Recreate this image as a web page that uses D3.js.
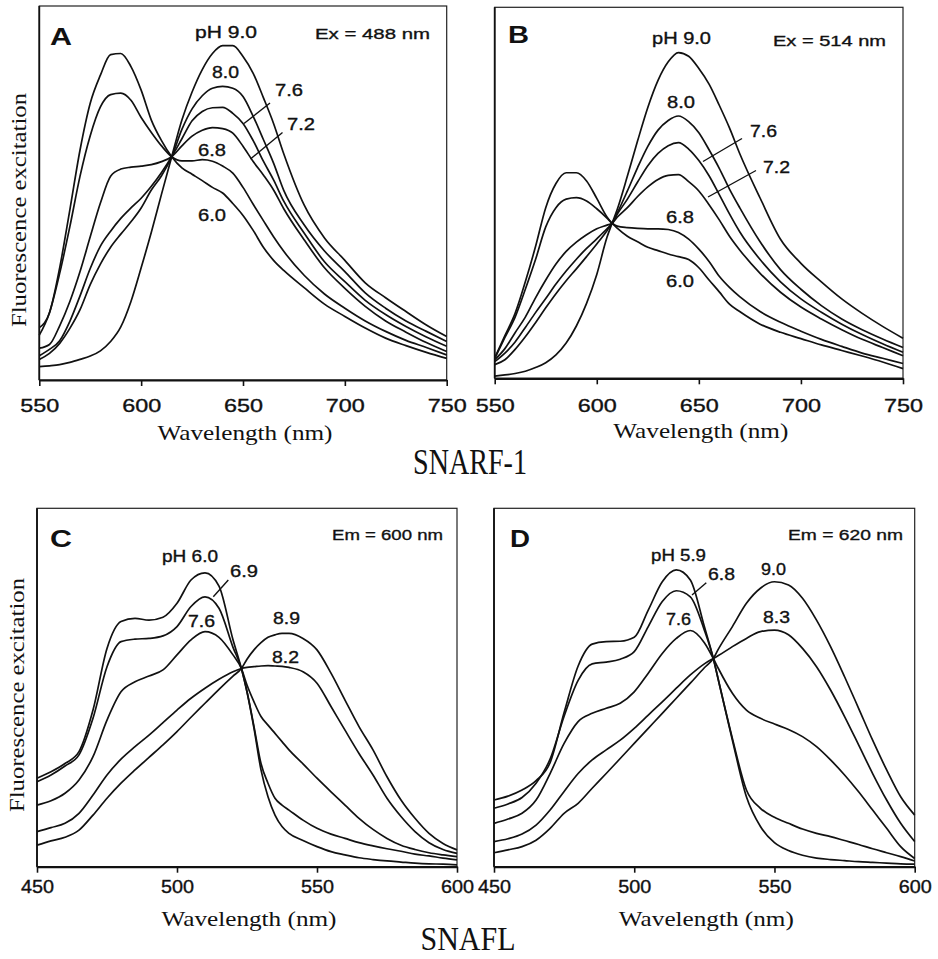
<!DOCTYPE html>
<html>
<head>
<meta charset="utf-8">
<script src="https://cdn.jsdelivr.net/npm/d3@7"></script>
<style>
  html, body { margin: 0; padding: 0; background: #fff; }
  svg { display: block; }
</style>
</head>
<body>
<svg id="chart" width="938" height="959"></svg>
<script>
// ---------------- DATA ----------------
// Relative fluorescence, 0 = x-axis, 100 = top of frame.

// Panel A: SNARF-1, Ex = 488 nm
const waveA = [550,555,560,565,570,575,580,585,590,595,600,605,610,615,620,625,630,635,640,645,650,655,660,665,670,680,690,700,710,720,730,740,750];
const snarfA_60 = [14,18,30,45.5,61.5,74,81.5,87,87.3,83.8,77.5,69.5,64,59.7,56.7,55,53.3,51.5,50,47.2,44,40,35.5,32,29.3,24.7,20.3,17,13.9,11.2,9.2,7.4,5.8];
const snarfA_68 = [12,18,28.5,41,54.5,65.3,73,76.3,76.7,74.8,70.2,66.2,62.6,59.7,58.6,58.6,58.9,58.5,57.2,55.3,51.5,47,42.6,38.3,34.4,28,23,19.2,15.8,13,10.6,8.7,6.7];
const snarfA_72 = [8.5,9.5,14.5,21,29,38.3,47.3,54.5,56.4,56.9,57.2,57.6,58.4,59.7,62.6,65.2,66.8,67.5,67.2,66,62.5,58.4,54.8,50.8,45.8,37.5,30,24.5,19.7,15.8,12.8,10,7.6];
const snarfA_76 = [6.5,8.2,10.5,15.7,22.5,29.8,35.8,39.8,43.2,46,48.6,51.8,55.5,59.7,64.5,69.3,71.8,72.8,72.9,71.3,68.6,64,58.5,53.5,47.8,39.3,31.6,26.3,21.3,17.5,14.3,11.5,9];
const snarfA_80 = [5.5,7.1,9.8,13.8,18.8,25.5,31,35.5,39,42.3,46,50.8,54.6,59.7,67,72.5,76,78,78.5,78,75.8,70.5,64.3,58,50.7,41.5,34.5,29,23.3,19.2,15.8,13,10.3];
const snarfA_90 = [3.6,3.8,4.1,4.7,5.5,6.4,7.8,10.3,14.2,21,30,39.5,49.7,59.7,69.5,77,83,87.3,89.4,89.4,86.5,82,75.5,68.6,60.5,46.8,38,32,26,22,18.3,14.7,11.6];

// Panel B: SNARF-1, Ex = 514 nm
const waveB = [550,555,560,565,570,575,580,585,590,595,600,605,607.5,610,615,620,625,630,635,640,645,650,655,660,665,670,680,690,700,710,720,730,740,750];
const snarfB_60 = [5.5,11.5,17.5,26,35.5,46,52.5,55.4,55.4,53.2,48.5,43.5,41.8,40.5,38.3,36.8,35.3,34.4,33.5,32.8,32,29.8,26.5,23.3,20,18,14.6,12.4,10.7,9,7.5,6,4.4,2.6];
const snarfB_68 = [5.3,11,16.5,24,32,40.8,46,48.3,48.7,47.8,45.7,43.2,41.8,41,40.6,40.4,40.3,40.3,40.1,39.3,37.5,34.8,31.5,27.5,24.5,22,18,15.1,12.7,10.5,8.6,6.8,5.4,4];
const snarfB_72 = [5,8,12.3,16.5,21.7,26.5,30.8,34.2,36.7,38.7,40.3,41.3,41.8,43.4,46,49,51.6,53.6,54.7,54.9,53,50.5,46.8,42.7,38.3,34.6,28.3,23.2,19.2,16,13.1,10.5,8.3,6.1];
const snarfB_76 = [4.5,6.8,9.8,13.7,17.7,21.5,25.4,28.9,32.1,35,37.6,40.3,41.8,44.2,48.3,52.9,57.3,60.6,62.7,63.5,61.8,58.7,54.6,49.5,44.3,39.5,32,26,21.4,17.8,14.6,11.8,9.3,7];
const snarfB_80 = [3.7,5,7.8,11.2,15,19,22.8,26.3,29.5,32.8,36.2,39.8,41.8,44.5,50.5,56.8,62.5,66.9,69.5,70.7,69.2,66.2,61.6,56.6,51,46,36.8,29.3,24,19.6,16,13.1,10.6,8.3];
const snarfB_90 = [0.6,0.9,1.3,1.9,2.9,4.2,6.3,9.5,14.1,20.2,28,38,41.8,45.5,54.5,64,73,80.3,85.3,87.8,86.8,83.5,79.3,73.6,67.5,60.6,48.6,37.5,31,26,21.4,17.5,14,10.8];

// Panel C: SNAFL, Em = 600 nm
const waveC = [450,455,460,465,470,475,480,485,490,495,500,505,510,515,520,523,525,527.5,530,532.5,535,537.5,540,545,550,555,560,565,570,575,580,585,590,595,600];
const snaflC_60 = [24.7,26.5,28.8,32.1,43.7,60.9,68.4,69.3,68.8,69.6,73.5,80,82,78.3,63.3,55.3,48.8,38.6,27,19.5,14.4,11.2,9.3,7.3,5.6,4.2,3.3,2.5,2,1.6,1.3,1,0.8,0.7,0.5];
const snaflC_69 = [23.7,25.6,28.1,31.2,41.4,55.8,62.8,63.5,63.7,64.4,67,72.6,75.3,72.1,61.2,55.3,48.8,39.1,28.8,23.3,19.1,17.2,15.8,13,10.7,9.1,7.9,6.7,5.8,5,4.3,3.5,3,2.4,1.9];
const snaflC_76 = [17.2,18.4,20.5,24.2,30.7,40.9,48.8,51.6,53.2,54.9,59.1,63.3,65.6,64,59.1,55.3,50.7,46,41.9,39.5,37.2,34.9,32.6,28.7,24.7,20.9,17.2,13.5,10.4,7.9,6,4.8,3.9,3.3,2.8];
const snaflC_82 = [9.8,10.9,12.1,14.9,20,25.6,30,33.5,36.7,40.2,43.7,47,49.8,52.3,54.4,55.3,55.6,55.8,56,56.1,56,55.9,55.6,54.4,51.2,44.7,38.1,31.6,25.6,19.1,14,9.8,6.7,4.8,3.7];
const snaflC_89 = [6,7.2,8.2,10.2,14.4,19.1,23.3,27,30.5,34,37.7,41.7,45.6,49.5,53.2,55.3,57.9,60.5,62.5,64,64.7,65.1,65.1,63.7,60.5,54,46.5,39.1,32.6,25.1,18.6,13.5,9.3,6.5,4.7];

// Panel D: SNAFL, Em = 620 nm
const waveD = [450,455,460,465,470,475,480,485,490,495,500,505,510,515,520,525,528.2,530,535,540,545,550,555,560,565,570,575,580,585,590,595,600];
const snaflD_59 = [18.6,19.7,21.4,24,29,43,56,62.1,62.8,62.9,64,71.6,79.5,82.8,80,67,58.1,52.1,35.3,19.5,11.2,6.7,4.5,3.2,2.4,2,1.7,1.4,1.2,1,0.8,0.7];
const snaflD_68 = [16.3,17.5,19.3,23.3,30,42,52,56.6,57.1,57.9,60,67,74,77,75.3,66,58.1,52.1,35.8,21.4,16.3,13.8,12.1,10.5,9.3,8.4,7.3,6.2,5,3.9,2.8,1.6];
const snaflD_76 = [12.1,13.3,14.9,18.6,26,34.4,40.5,42.8,44.2,45.6,48.8,54,59.5,63.7,65.9,62.5,58.1,55.3,48.4,43.7,41.4,39.8,38.3,36.3,33.5,29.8,25.6,20.9,15.8,10.7,5.6,2.3];
const snaflD_83 = [7,7.8,9.1,11.6,15.8,21,26,29.8,32.6,35.3,38.6,42.3,46,49.8,53.5,56.6,58.1,58.9,61.4,63.7,65.6,66,64.7,60.9,55.8,49.3,41.9,34,26,18.6,12.1,7];
const snaflD_90 = [3.9,4.7,5.6,7.4,10.7,14.9,17.7,21.9,26,30.2,34.4,38.6,42.8,47,51.2,55.5,58.1,60.7,67,73.5,77.7,79.5,78.6,74.9,68.8,61.4,53,44.2,35.3,27,19.5,14.4];

// Tick labels and texts
const ticksSnarf = [550,600,650,700,750];
const ticksSnafl = [450,500,550,600];
const phLabelsA = ["pH 9.0","8.0","7.6","7.2","6.8","6.0"];
const phLabelsB = ["pH 9.0","8.0","7.6","7.2","6.8","6.0"];
const phLabelsC = ["pH 6.0","6.9","7.6","8.9","8.2"];
const phLabelsD = ["pH 5.9","6.8","9.0","7.6","8.3"];
const conditionLabels = ["Ex = 488 nm","Ex = 514 nm","Em = 600 nm","Em = 620 nm"];
const panelLetters = ["A","B","C","D"];
const dyeTitles = ["SNARF-1","SNAFL"];
const xTitle = "Wavelength (nm)";
const yTitle = "Fluorescence excitation";

// ---------------- DRAWING ----------------
const SANS = "'Liberation Sans', Arial, Helvetica, sans-serif";
const SERIF = "'Liberation Serif', 'Times New Roman', Times, 'DejaVu Serif', serif";
const INK = "#111";
const svg = d3.select("#chart");

function txt(g, s, x, y, o) {
  o = o || {};
  const t = g.append("text")
    .attr("x", x).attr("y", y)
    .attr("font-family", o.family || SANS)
    .attr("font-size", o.size || 17)
    .attr("font-weight", o.weight || "normal")
    .attr("fill", INK)
    .attr("text-anchor", o.anchor || "start")
    .text(s);
  if (o.len) t.attr("textLength", o.len).attr("lengthAdjust", "spacingAndGlyphs");
  if (o.transform) t.attr("transform", o.transform);
  if (o.heavy) t.attr("stroke", INK).attr("stroke-width", 0.35);
  return t;
}

const panels = [
  { waves: waveA, series: [snarfA_60, snarfA_68, snarfA_72, snarfA_76, snarfA_80, snarfA_90],
    xd: [550,750], xr: [39.3,446.7], yr: [380,6], ticks: ticksSnarf, pad: 13, tickLen: 39,
    letter: [50,44.5,22], cond: [315,39,115],
    labels: phLabelsA, pos: [[195,37.5,62],[212,77.5,27],[275,96,28],[287,129.5,28],[198,155.5,28],[198,221,28]],
    leaders: [[270,103,244,123.5],[282.5,132.5,250.5,159]] },
  { waves: waveB, series: [snarfB_60, snarfB_68, snarfB_72, snarfB_76, snarfB_80, snarfB_90],
    xd: [550,750], xr: [494.7,903], yr: [378.3,7.3], ticks: ticksSnarf, pad: 15, tickLen: 39,
    letter: [508,43.3,21], cond: [773,46,113],
    labels: phLabelsB, pos: [[652,44,59],[667,108,28],[750,136.5,27],[763,173,27],[666,222.5,28],[666,287,28]],
    leaders: [[742,138.5,703,161.5],[756,170.5,708,197]] },
  { waves: waveC, series: [snaflC_60, snaflC_69, snaflC_76, snaflC_82, snaflC_89],
    xd: [450,600], xr: [37,457], yr: [866.7,508.3], ticks: ticksSnafl, pad: 8, tickLen: 33,
    letter: [50,546.5,22], cond: [332,540,111],
    labels: phLabelsC, pos: [[162,562,56],[230,577,28],[188,626.5,27],[273,624,27],[272,663,27]],
    leaders: [[228.3,580,213.3,596.7]] },
  { waves: waveD, series: [snaflD_59, snaflD_68, snaflD_76, snaflD_83, snaflD_90],
    xd: [450,600], xr: [494,914.7], yr: [866.7,508.3], ticks: ticksSnafl, pad: 8, tickLen: 33,
    letter: [510,546.5,20], cond: [788,540,115],
    labels: phLabelsD, pos: [[651,560.5,55],[708,580,27],[761,575,25],[666,624.5,25],[763,623,27]],
    leaders: [[706.3,582.7,692,595]] }
];

panels.forEach((p, i) => {
  const g = svg.append("g");
  const x = d3.scaleLinear().domain(p.xd).range(p.xr);
  const y = d3.scaleLinear().domain([0,100]).range(p.yr);

  // frame: thin top/right, heavier left
  g.append("rect")
    .attr("x", p.xr[0]).attr("y", p.yr[1])
    .attr("width", p.xr[1]-p.xr[0]).attr("height", p.yr[0]-p.yr[1])
    .attr("fill", "none").attr("stroke", "#222").attr("stroke-width", 1.2);
  g.append("line")
    .attr("x1", p.xr[0]).attr("x2", p.xr[0]).attr("y1", p.yr[1]).attr("y2", p.yr[0])
    .attr("stroke", INK).attr("stroke-width", 1.8);

  // curves
  const line = d3.line()
    .x((d, k) => x(p.waves[k]))
    .y(d => y(d))
    .curve(d3.curveMonotoneX);
  p.series.forEach(s => {
    g.append("path").attr("d", line(s))
      .attr("fill", "none").attr("stroke", INK)
      .attr("stroke-width", 1.7).attr("stroke-linejoin", "round");
  });

  // x axis
  const ax = g.append("g").attr("transform", `translate(0,${p.yr[0]})`)
    .call(d3.axisBottom(x).tickValues(p.ticks).tickSize(6).tickSizeOuter(0).tickPadding(p.pad).tickFormat(d3.format("d")));
  ax.select(".domain").attr("stroke", INK).attr("stroke-width", 2.2);
  ax.selectAll(".tick line").attr("stroke", INK).attr("stroke-width", 1.6);
  ax.selectAll(".tick text")
    .attr("font-family", SANS).attr("font-size", 18).attr("fill", INK)
    .attr("stroke", INK).attr("stroke-width", 0.35)
    .attr("textLength", p.tickLen).attr("lengthAdjust", "spacingAndGlyphs");

  // panel letter and condition
  txt(g, panelLetters[i], p.letter[0], p.letter[1], { size: 24, weight: "bold", len: p.letter[2] });
  txt(g, conditionLabels[i], p.cond[0], p.cond[1], { size: 15.5, len: p.cond[2], heavy: true });

  // pH labels
  p.labels.forEach((s, k) => {
    const q = p.pos[k];
    txt(g, s, q[0], q[1], { size: 16.5, len: q[2], heavy: true });
  });
  p.leaders.forEach(l => {
    g.append("line").attr("x1", l[0]).attr("y1", l[1]).attr("x2", l[2]).attr("y2", l[3])
      .attr("stroke", INK).attr("stroke-width", 1.4);
  });

  // x title
  const cx = (p.xr[0] + p.xr[1]) / 2;
  txt(g, xTitle, cx + 2, p.yr[0] + 59.5, { family: SERIF, size: 22, anchor: "middle", len: 175 });
});

// y titles
txt(svg, yTitle, 0, 0, { family: SERIF, size: 22, anchor: "middle", len: 234, transform: "translate(25.5,210) rotate(-90)" });
txt(svg, yTitle, 0, 0, { family: SERIF, size: 22, anchor: "middle", len: 234, transform: "translate(24,695) rotate(-90)" });

// dye titles
txt(svg, dyeTitles[0], 470, 474, { family: SERIF, size: 36, anchor: "middle", len: 114 });
txt(svg, dyeTitles[1], 468, 950, { family: SERIF, size: 34, anchor: "middle", len: 95 });
</script>
</body>
</html>
